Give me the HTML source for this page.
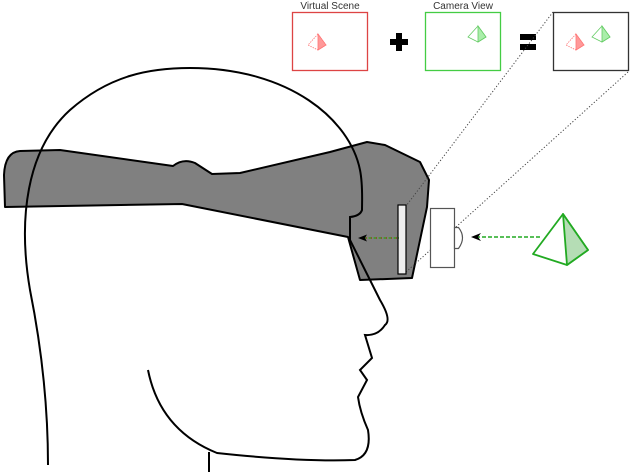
<!DOCTYPE html>
<html><head><style>body{margin:0;background:#fff}svg{display:block}</style></head><body>
<svg width="640" height="475" viewBox="0 0 640 475" xmlns="http://www.w3.org/2000/svg" font-family="Liberation Sans, sans-serif">
<text x="330" y="9" font-size="10" text-anchor="middle" fill="#333">Virtual Scene</text>
<text x="463" y="9" font-size="10" text-anchor="middle" fill="#333">Camera View</text>
<rect x="292.5" y="12.5" width="75" height="58" fill="none" stroke="#d44" stroke-width="1.3"/>
<rect x="425.5" y="12.5" width="75" height="58" fill="none" stroke="#4c4" stroke-width="1.3"/>
<rect x="553.5" y="12.5" width="75" height="58" fill="none" stroke="#333" stroke-width="1.3"/>
<path d="M399 33v18M390 42h18" stroke="#000" stroke-width="6"/>
<path d="M520 37h16M520 47h16" stroke="#000" stroke-width="6"/>
<g stroke="#f77" stroke-width="0.8" fill="none"><path d="M318 34l-10 11 10 5 8-5z" stroke-dasharray="1.5 1"/><path d="M318 34l8 11-8 5z" fill="#f99"/></g>
<g stroke="#6c6" stroke-width="0.8" fill="none"><path d="M478 26l-10 11 10 5 8-5z"/><path d="M478 26l8 11-8 5z" fill="#aea"/></g>
<g stroke="#f77" stroke-width="0.8" fill="none"><path d="M576 34l-10 11 10 5 8-5z" stroke-dasharray="1.5 1"/><path d="M576 34l8 11-8 5z" fill="#f99"/></g>
<g stroke="#6c6" stroke-width="0.8" fill="none"><path d="M602 26l-10 11 10 5 8-5z"/><path d="M602 26l8 11-8 5z" fill="#aea"/></g>
<path d="M5 207 L4 175 Q5 152 20 151 L60 150 L173 166 Q183 158 195 163 L212 174 L240 173 L330 152 L367 142 L385 145 L420 162 L429 180 L427 207 L412 278 L360 280 L348 237 L182 204 Z" fill="#808080" stroke="#000" stroke-width="2" stroke-linejoin="round"/>
<path d="M48 465 C48 400 40 340 30 290 C18 220 26 150 70 110 C110 75 150 68 190 68 C290 68 350 120 360 170 C363 185 362 200 362 210 Q360 216 350 217 L350 240 L380 300 Q392 320 385 325 Q378 336 365 335 L372 358 L360 370 L367 380 L358 397 Q360 412 368 430 Q372 455 355 460 Q300 462 217 453 Q160 430 148 370" fill="none" stroke="#000" stroke-width="2"/>
<path d="M209 452 V472" stroke="#000" stroke-width="2"/>
<g stroke="#444" stroke-width="1" stroke-dasharray="1.2 2" fill="none"><path d="M553 12 L406 206"/><path d="M628 72 L406 272"/></g>
<rect x="398" y="205" width="8" height="69" fill="#eee" stroke="#000" stroke-width="1.2"/>
<path d="M397 238 H364" stroke="#c00" stroke-width="1.4" stroke-dasharray="3 2"/>
<path d="M399 238 H364" stroke="#3a3" stroke-width="1.4" stroke-dasharray="3 2" stroke-dashoffset="2.5"/>
<path d="M358 238 l9-3.5 -2 3.5 2 3.5z" fill="#000"/>
<rect x="430.5" y="208.5" width="24" height="59" fill="#fff" stroke="#555" stroke-width="1.2"/>
<path d="M454.5 227.5 h4 q8 10 0 21 h-4z" fill="#fff" stroke="#555" stroke-width="1.2"/>
<path d="M540 237 H478" stroke="#2a2" stroke-width="1.5" stroke-dasharray="4 2"/>
<path d="M471 237 l10-4 -3 4 3 4z" fill="#000"/>
<path d="M563 214 L533 254 L567 265 L588 250 Z" fill="#fff" stroke="#2a2" stroke-width="1.8" stroke-linejoin="round"/>
<path d="M563 214 L567 265 L588 250 Z" fill="#b5ddb5" stroke="#2a2" stroke-width="1.8" stroke-linejoin="round"/>
</svg>
</body></html>
